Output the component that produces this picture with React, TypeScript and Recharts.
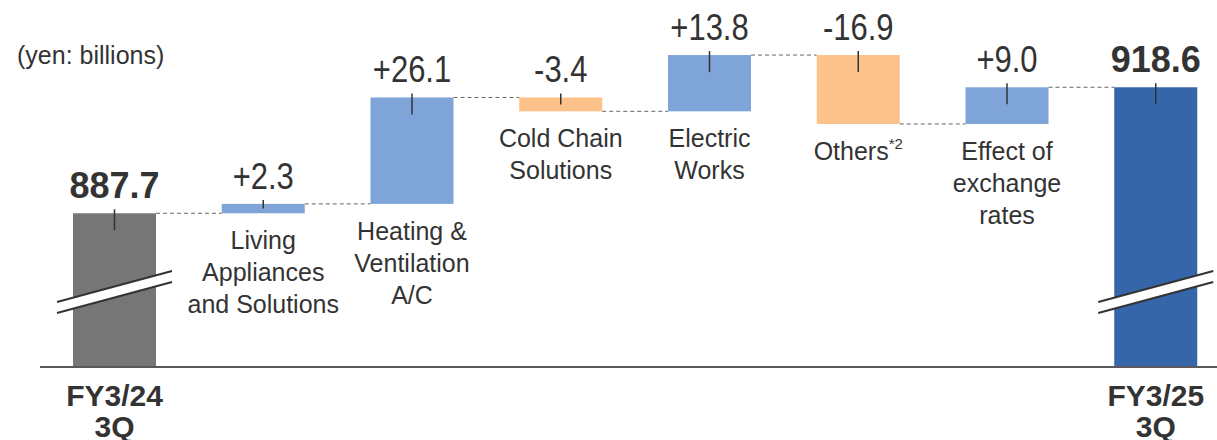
import React from 'react';
import { BarChart, Bar, XAxis, YAxis, ReferenceLine } from 'recharts';

// values in yen billions
const startValue = 887.7;
const endValue = 918.6;
const changes = [2.3, 26.1, -3.4, 13.8, -16.9, 9.0];

const categoryLines = [
  ['FY3/24', '3Q'],
  ['Living', 'Appliances', 'and Solutions'],
  ['Heating &', 'Ventilation', 'A/C'],
  ['Cold Chain', 'Solutions'],
  ['Electric', 'Works'],
  ['Others'],
  ['Effect of', 'exchange', 'rates'],
  ['FY3/25', '3Q'],
];
const categoryNotes = ['', '', '', '', '', '*2', '', ''];

const AXIS_MIN = 850;
const AXIS_MAX = 940;

const COLORS: Record<string, string> = {
  start: '#767676',
  up: '#7FA4D7',
  down: '#FCC289',
  end: '#3566AA',
};
const TEXT = '#333333';
const FONT = '"Liberation Sans", Arial, sans-serif';

const W = 1230;
const H = 440;
const MARGIN = { top: 0, right: 0, left: 40, bottom: 73 };
const BAR = 83;
const BAND = (W - MARGIN.left - MARGIN.right) / categoryLines.length;
const GAP = BAND - BAR;

type Row = { name: string; range: [number, number]; kind: string; label: string; index: number };

const rows: Row[] = [];
rows.push({ name: categoryLines[0].join(' '), range: [AXIS_MIN, startValue], kind: 'start', label: startValue.toFixed(1), index: 0 });
let level = startValue;
changes.forEach((c, i) => {
  const next = level + c;
  rows.push({
    name: categoryLines[i + 1].join(' '),
    range: [Math.min(level, next), Math.max(level, next)],
    kind: c >= 0 ? 'up' : 'down',
    label: (c >= 0 ? '+' : '-') + Math.abs(c).toFixed(1),
    index: i + 1,
  });
  level = next;
});
rows.push({ name: categoryLines[7].join(' '), range: [AXIS_MIN, endValue], kind: 'end', label: endValue.toFixed(1), index: 7 });

const WaterfallBar = (props: any) => {
  const { x, y, width, height, payload } = props;
  const row: Row = payload;
  const cx = x + width / 2;
  const bottom = y + height;
  const isTotal = row.kind === 'start' || row.kind === 'end';
  const endY = row.kind === 'down' ? bottom : y;
  const lines = categoryLines[row.index];
  const note = categoryNotes[row.index];

  return (
    <g>
      <rect x={x} y={y} width={width} height={height} fill={COLORS[row.kind]} />
      {isTotal && (
        <g>
          <polygon
            points={`${x - 16},${bottom - 65} ${x + width + 16},${bottom - 96} ${x + width + 16},${bottom - 85} ${x - 16},${bottom - 54}`}
            fill="#fff"
          />
          <line x1={x - 16} y1={bottom - 65} x2={x + width + 16} y2={bottom - 96} stroke="#333" strokeWidth={2} />
          <line x1={x - 16} y1={bottom - 54} x2={x + width + 16} y2={bottom - 85} stroke="#333" strokeWidth={2} />
        </g>
      )}
      <line x1={cx} y1={y - 4} x2={cx} y2={y + Math.min(17, height / 2)} stroke="#333" strokeWidth={1.5} />
      <text
        x={0}
        y={0}
        transform={`translate(${cx},${y - 15}) scale(1,${isTotal ? 1 : 1.17})`}
        textAnchor="middle"
        fontFamily={FONT}
        fontSize={isTotal ? 36 : 31}
        fontWeight={isTotal ? 'bold' : 'normal'}
        fill={TEXT}
      >
        {row.label}
      </text>
      {row.index < rows.length - 1 && (
        <line x1={x + width} y1={endY} x2={x + width + GAP} y2={endY} stroke="#666" strokeWidth={1} strokeDasharray="4 3" />
      )}
      <text
        x={cx}
        textAnchor="middle"
        fontFamily={FONT}
        fontSize={isTotal ? 30 : 25}
        fontWeight={isTotal ? 'bold' : 'normal'}
        fill={TEXT}
      >
        {lines.map((l, i) => (
          <tspan key={i} x={cx} y={isTotal ? bottom + 39 + i * 31 : bottom + 36 + i * 32}>
            {l}
            {i === lines.length - 1 && note ? (
              <tspan fontSize={15} dy={-11}>{note}</tspan>
            ) : null}
          </tspan>
        ))}
      </text>
    </g>
  );
};

export default function App() {
  return (
    <div style={{ position: 'absolute', left: 0, top: 0, width: 1217, height: H, overflow: 'hidden', background: '#fff' }}>
      <div
        style={{
          position: 'absolute',
          left: 17,
          top: 43,
          fontFamily: FONT,
          fontSize: 25,
          lineHeight: '25px',
          color: TEXT,
          whiteSpace: 'nowrap',
        }}
      >
        (yen: billions)
      </div>
      <BarChart width={W} height={H} data={rows} margin={MARGIN} barSize={BAR} style={{ overflow: 'visible' }}>
        <XAxis dataKey="name" hide />
        <YAxis domain={[AXIS_MIN, AXIS_MAX]} hide />
        <Bar dataKey="range" isAnimationActive={false} shape={WaterfallBar} />
        <ReferenceLine y={AXIS_MIN} stroke="#595959" strokeWidth={2} />
      </BarChart>
    </div>
  );
}
